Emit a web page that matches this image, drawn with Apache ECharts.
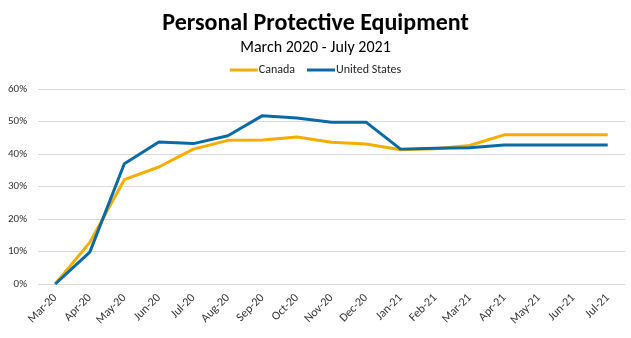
<!DOCTYPE html>
<html>
<head>
<meta charset="utf-8">
<script src="https://cdn.jsdelivr.net/npm/echarts@6/dist/echarts.min.js"></script>
<style>
  html, body { margin: 0; padding: 0; background: #fff; }
  #chart { width: 631px; height: 338px; }
</style>
</head>
<body>
<div id="chart"></div>
<script>
// Monthly share (%) by country
const months = ['Mar-20','Apr-20','May-20','Jun-20','Jul-20','Aug-20','Sep-20','Oct-20','Nov-20','Dec-20',
                'Jan-21','Feb-21','Mar-21','Apr-21','May-21','Jun-21','Jul-21'];
const canada = [0, 12.8, 32.1, 36.0, 41.5, 44.2, 44.3, 45.2, 43.6, 43.1, 41.3, 41.6, 42.6, 45.9, 45.9, 45.9, 45.9];
const unitedStates = [0, 9.8, 37.0, 43.7, 43.2, 45.6, 51.8, 51.1, 49.8, 49.8, 41.5, 41.8, 41.9, 42.8, 42.8, 42.8, 42.8];
const yTicks = [0, 10, 20, 30, 40, 50, 60];

const font = 'Carlito, Calibri, "Open Sans", "Noto Sans", sans-serif';
const chart = echarts.init(document.getElementById('chart'));
chart.setOption({
  animation: false,
  backgroundColor: '#ffffff',
  title: {
    text: 'Personal Protective Equipment',
    subtext: 'March 2020 - July 2021',
    left: 'center',
    top: 7,
    itemGap: 4,
    textStyle: { fontFamily: font, fontSize: 24, fontWeight: 'bold', color: '#000' },
    subtextStyle: { fontFamily: font, fontSize: 16, color: '#000' }
  },
  legend: {
    top: 59,
    left: 'center',
    itemWidth: 28,
    itemHeight: 3,
    itemGap: 12,
    icon: 'rect',
    textStyle: { fontFamily: font, fontSize: 12, color: '#222', padding: [0, 0, 0, -4] },
    data: ['Canada', 'United States']
  },
  grid: { left: 38, right: 6, top: 89, bottom: 54 },
  xAxis: {
    type: 'category',
    data: months,
    boundaryGap: true,
    axisLine: { show: false },
    axisTick: { show: false },
    axisLabel: { rotate: 45, fontFamily: font, fontSize: 12, color: '#333', margin: 12, interval: 0 }
  },
  yAxis: {
    type: 'value',
    min: yTicks[0],
    max: yTicks[yTicks.length - 1],
    interval: 10,
    axisLine: { show: false },
    axisTick: { show: false },
    splitLine: { lineStyle: { color: '#d9d9d9', width: 1 } },
    axisLabel: { formatter: '{value}%', fontFamily: font, fontSize: 11, color: '#333', margin: 11 }
  },
  series: [
    {
      name: 'Canada', type: 'line', data: canada, showSymbol: false,
      lineStyle: { color: '#F5AD00', width: 3 }, itemStyle: { color: '#F5AD00' }
    },
    {
      name: 'United States', type: 'line', data: unitedStates, showSymbol: false,
      lineStyle: { color: '#0A6AA5', width: 3 }, itemStyle: { color: '#0A6AA5' }
    }
  ]
});
</script>
</body>
</html>
